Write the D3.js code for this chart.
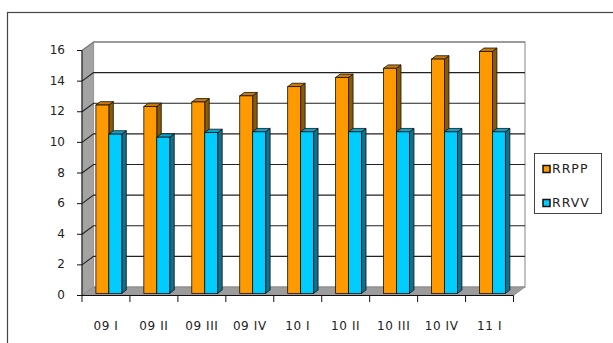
<!DOCTYPE html>
<html><head><meta charset="utf-8">
<script src="https://cdn.jsdelivr.net/npm/d3@7"></script>
<style>body{margin:0;background:#fff}svg{display:block}text{font-family:"DejaVu Sans",sans-serif;fill:#222}</style>
</head><body>
<script>
const categories = ["09 I","09 II","09 III","09 IV","10 I","10 II","10 III","10 IV","11 I"];
const seriesNames = ["RRPP","RRVV"];
const rrpp = [12.3, 12.2, 12.5, 12.9, 13.5, 14.1, 14.7, 15.3, 15.8];
const rrvv = [10.4, 10.2, 10.5, 10.55, 10.55, 10.55, 10.55, 10.55, 10.55];
const yTicks = [0,2,4,6,8,10,12,14,16];
const seriesValues = [rrpp, rrvv];

const W = 613, H = 343;
const svg = d3.select("body").append("svg").attr("width", W).attr("height", H);

// outer chart border
svg.append("rect").attr("x",7.5).attr("y",12.5).attr("width",700).attr("height",400)
  .attr("fill","#fff").attr("stroke","#444").attr("stroke-width",1.2);

const DX = 11.5, DY = -8.5;            // depth of the wall/floor
const x0 = d3.scaleBand().domain(categories).range([82, 513.5]).paddingInner(0).paddingOuter(0);
const x1 = d3.scaleBand().domain(seriesNames).range([0, x0.bandwidth()]).paddingInner(0).paddingOuter(0.85);
const y = d3.scaleLinear().domain([0,16]).range([295.5, 50.5]);

const xL = x0.range()[0], xR = x0.range()[1];

// side wall
svg.append("polygon").attr("points",[[xL,y(16)],[xL+DX,y(16)+DY],[xL+DX,y(0)+DY],[xL,y(0)]].join(" "))
  .attr("fill","#a3a3a3").attr("stroke","#888").attr("stroke-width",0.8);
// back wall
svg.append("rect").attr("x",xL+DX).attr("y",y(16)+DY).attr("width",xR-xL).attr("height",y(0)-y(16))
  .attr("fill","#fff").attr("stroke","#999").attr("stroke-width",1.2);
// floor
svg.append("polygon").attr("points",[[xL,y(0)],[xR,y(0)],[xR+DX,y(0)+DY],[xL+DX,y(0)+DY]].join(" "))
  .attr("fill","#9c9c9c").attr("stroke","#888").attr("stroke-width",0.8);

// gridlines
yTicks.filter(v=>v>0).forEach(v=>{
  svg.append("polyline")
    .attr("points",[[xL,y(v)],[xL+DX,y(v)+DY],[xR+DX,y(v)+DY]].join(" "))
    .attr("fill","none").attr("stroke", v===16 ? "#777" : "#222").attr("stroke-width",1.1);
});

// axes
svg.append("line").attr("x1",xL).attr("x2",xL).attr("y1",y(16)).attr("y2",y(0)).attr("stroke","#111");
svg.append("line").attr("x1",xL).attr("x2",xR).attr("y1",y(0)).attr("y2",y(0)).attr("stroke","#111");
yTicks.forEach(v=>{
  svg.append("line").attr("x1",xL-5).attr("x2",xL).attr("y1",y(v)).attr("y2",y(v)).attr("stroke","#111");
  svg.append("text").attr("x",65).attr("y",y(v)).attr("text-anchor","end").attr("dominant-baseline","middle")
    .attr("font-size",12).text(v);
});
const bounds = categories.map(c=>x0(c)).concat([xR]);
bounds.forEach(bx=>{
  svg.append("line").attr("x1",bx).attr("x2",bx).attr("y1",y(0)).attr("y2",y(0)+6.5).attr("stroke","#111");
});
categories.forEach(c=>{
  svg.append("text").attr("x",x0(c)+x0.bandwidth()/2).attr("y",330).attr("text-anchor","middle")
    .attr("font-size",12).attr("letter-spacing",0.6).text(c);
});

// bars
const colors = {
  RRPP:{front:"#FF9900", top:"#C97A0A", side:"#8E5A00"},
  RRVV:{front:"#00CCFF", top:"#0AA3CC", side:"#12708C"}
};
const F = 0.25;                 // bar front plane within depth
const BDX = 4.5, BDY = -3.4;    // bar depth
const g = svg.append("g");
categories.forEach((c,i)=>{
  seriesNames.forEach((s,j)=>{
    const v = seriesValues[j][i];
    const w = x1.bandwidth();
    const x = x0(c) + x1(s) + F*DX;
    const yt = y(v) + F*DY, yb = y(0) + F*DY;
    const col = colors[s];
    g.append("polygon").attr("points",[[x+w,yt],[x+w+BDX,yt+BDY],[x+w+BDX,yb+BDY],[x+w,yb]].join(" "))
      .attr("fill",col.side).attr("stroke","#111").attr("stroke-width",0.8).attr("stroke-linejoin","round");
    g.append("polygon").attr("points",[[x,yt],[x+w,yt],[x+w+BDX,yt+BDY],[x+BDX,yt+BDY]].join(" "))
      .attr("fill",col.top).attr("stroke","#111").attr("stroke-width",0.8).attr("stroke-linejoin","round");
    g.append("rect").attr("x",x).attr("y",yt).attr("width",w).attr("height",yb-yt)
      .attr("fill",col.front).attr("stroke","#111").attr("stroke-width",0.8);
  });
});

// legend
svg.append("rect").attr("x",534.5).attr("y",153.5).attr("width",67).attr("height",60)
  .attr("fill","#fff").attr("stroke","#444").attr("stroke-width",1);
seriesNames.forEach((s,j)=>{
  const cy = 169 + j*34;
  svg.append("rect").attr("x",543).attr("y",cy-3.5).attr("width",7).attr("height",7)
    .attr("fill",colors[s].front).attr("stroke","#111").attr("stroke-width",1.5);
  svg.append("text").attr("x",552).attr("y",cy).attr("dominant-baseline","middle")
    .attr("font-size",12.5).attr("letter-spacing",1).attr("fill","#333").text(s);
});
</script>
</body></html>
